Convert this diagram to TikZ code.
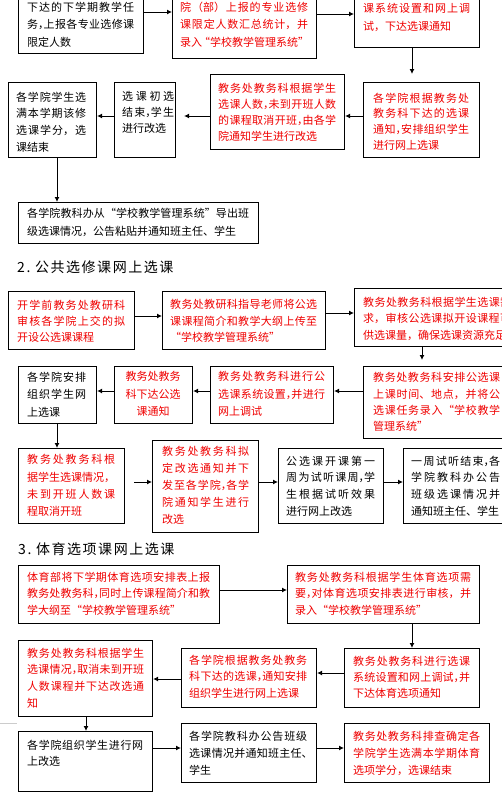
\documentclass[tikz,border=0pt]{standalone}
\usepackage{fontspec}
\newfontfamily\cjk{Noto Sans CJK SC}
\newfontfamily\cjkt[LetterSpace=11]{Noto Sans CJK SC}
\usetikzlibrary{arrows.meta}
\definecolor{tred}{RGB}{240,0,0}
\XeTeXlinebreaklocale "zh"
\XeTeXlinebreakskip=0pt plus 3pt
\newcommand\nc{\makebox[5.5pt][l]{，}}
\newcommand\nd{\makebox[5.5pt][l]{、}}
\newcommand\oq{\makebox[8pt][r]{“}}
\newcommand\cq{\makebox[8pt][l]{”}}
\newcommand\mybox[5]{\node[box, minimum width={(#4-#2)*1pt}, minimum height={(#5-#3)*1pt}] (#1) at (#2,#3) {};}
\begin{document}
\begin{tikzpicture}[x=1pt,y=-1pt,
  box/.style={draw, line width=1.1pt, inner sep=0pt, anchor=north west},
  txt/.style={anchor=north west, inner sep=0pt, align=justify, yshift=5.5pt, font=\cjk\fontsize{11}{16.5}\selectfont},
  lp/.style={font=\cjk\fontsize{11}{#1}\selectfont},
  tw/.style={text width=#1pt},
  rt/.style={text=tred},
  ttl/.style={anchor=west, inner sep=0pt, font=\cjkt\fontsize{14}{16}\selectfont},
  arr/.style={line width=1pt, -{Latex[length=5pt,width=5pt]}}]
\useasboundingbox (0,0) rectangle (502,803);
\clip (0,0) rectangle (502,803);
\fill[white] (0,0) rectangle (502,803);

% ---------- Section 1 ----------
\mybox{A}{18}{-20}{143}{53}
\mybox{B}{172}{-20}{316}{58}
\mybox{C}{354}{-20}{479}{47}
\mybox{D}{363}{82}{479}{157}
\mybox{E}{210}{74}{344}{149}
\mybox{F}{114}{82}{175}{157}
\mybox{G}{8}{82}{96}{157}
\mybox{H}{18}{202}{258}{243}

\node[txt, lp=17.5, tw=107] (tA) at (27,7) {下达的下学期教学任\linebreak 务\nc 上报各专业选修课\linebreak 限定人数};
\node[txt, lp=17.5, tw=128, rt] (tB) at (180,7) {院（部）上报的专业选修\linebreak 课限定人数汇总统计，并\linebreak 录入\oq 学校教学管理系统\cq};
\node[txt, lp=18, tw=107, rt] (tC) at (363,9) {课系统设置和网上调\linebreak 试，下达选课通知};
\node[txt, lp=15.7, tw=96, rt] (tD) at (373,98) {各学院根据教务处\linebreak 教务科下达的选课\linebreak 通知\nc 安排组织学生\linebreak 进行网上选课};
\node[txt, lp=16, tw=118, rt] (tE) at (218,88) {教务处教务科根据学生\linebreak 选课人数\nc 未到开班人数\linebreak 的课程取消开班\nc 由各学\linebreak 院通知学生进行改选};
\node[txt, lp=16, tw=52] (tF) at (122,97) {选课初选\linebreak 结束\nc 学生\linebreak 进行改选};
\node[txt, lp=16.7, tw=70] (tG) at (16,97) {各学院学生选\linebreak 满本学期该修\linebreak 选课学分，选\linebreak 课结束};
\node[txt, lp=18.5, tw=222] (tH) at (27,213) {各学院教科办从“学校教学管理系统”导出班\linebreak 级选课情况，公告粘贴并通知班主任、学生};

\draw[arr] (A.east |- 0,12) -- (B.west |- 0,12);
\draw[arr] (B.east |- 0,14) -- (C.west |- 0,14);
\draw[arr, shorten >=8pt] (C.south -| 412,0) -- (D.north -| 412,0);
\draw[arr] (D.west |- 0,116) -- (E.east |- 0,116);
\draw[arr, shorten >=8pt] (E.west |- 0,116) -- (F.east |- 0,116);
\draw[arr] (F.west |- 0,116) -- (G.east |- 0,116);
\draw[arr] (G.south -| 57,0) -- (H.north -| 57,0);

% ---------- Section 2 ----------
\node[ttl] (T2) at (17,267) {2.\ 公共选修课网上选课};

\mybox{I}{8}{291}{134}{349}
\mybox{J}{162}{291}{325}{349}
\mybox{K}{354}{288}{520}{346}
\mybox{L}{363}{366}{520}{438}
\mybox{M}{210}{366}{333}{423}
\mybox{N}{114}{366}{192}{423}
\mybox{O}{18}{366}{96}{423}
\mybox{P}{18}{448}{124}{523}
\mybox{Q}{152}{440}{258}{532}
\mybox{R}{278}{448}{383}{523}
\mybox{S}{403}{448}{520}{523}

\node[txt, lp=16, tw=108, rt] (tI) at (17,305) {开学前教务处教研科\linebreak 审核各学院上交的拟\linebreak 开设公选课课程};
\node[txt, lp=16.5, tw=147, rt] (tJ) at (170,305) {教务处教研科指导老师将公选\linebreak 课课程简介和教学大纲上传至\linebreak “学校教学管理系统”};
\node[txt, lp=16.5, tw=148, rt] (tK) at (363,302) {\parfillskip=0pt 教务处教务科根据学生选课需\linebreak 求，审核公选课拟开设课程可\linebreak 供选课量，确保选课资源充足};
\node[txt, lp=16.3, tw=127, rt] (tL) at (373,378) {教务处教务科安排公选课\linebreak 上课时间、地点，并将公\linebreak 选课任务录入“学校教学\linebreak 管理系统”};
\node[txt, lp=17.5, tw=107, rt] (tM) at (218,377) {教务处教务科进行公\linebreak 选课系统设置\nc 并进行\linebreak 网上调试};
\node[txt, lp=17.5, rt, anchor=north, align=center] (tN) at (153,377) {教务处教务\\科下达公选\\课通知};
\node[txt, lp=17.5, tw=59] (tO) at (27,377) {各学院安排\linebreak 组织学生网\linebreak 上选课};
\node[txt, lp=17.3, tw=88, rt] (tP) at (27,460) {教务处教务科根\linebreak 据学生选课情况，\linebreak 未到开班人数课\linebreak 程取消开班};
\node[txt, lp=16.8, tw=87, rt] (tQ) at (162,452) {教务处教务科拟\linebreak 定改选通知并下\linebreak 发至各学院\nc 各学\linebreak 院通知学生进行\linebreak 改选};
\node[txt, lp=16.8, tw=89] (tR) at (286,461) {公选课开课第一\linebreak 周为试听课周\nc 学\linebreak 生根据试听效果\linebreak 进行网上改选};
\node[txt, lp=16.8, tw=89] (tS) at (411,461) {一周试听结束\nc 各\linebreak 学院教科办公告\linebreak 班级选课情况并\linebreak 通知班主任、学生};

\draw[arr] (I.east |- 0,316) -- (J.west |- 0,316);
\draw[arr] (J.east |- 0,313) -- (K.west |- 0,313);
\draw[arr, shorten >=6pt] (K.south -| 422,0) -- (L.north -| 422,0);
\draw[arr] (L.west |- 0,391) -- (M.east |- 0,391);
\draw[arr] (M.west |- 0,391) -- (N.east |- 0,391);
\draw[arr] (N.west |- 0,391) -- (O.east |- 0,391);
\draw[arr] (O.south -| 57,0) -- (P.north -| 57,0);
\draw[arr, shorten <=9pt] (P.east |- 0,482) -- (Q.west |- 0,482);
\draw[arr] (Q.east |- 0,482) -- (R.west |- 0,482);
\draw[arr] (R.east |- 0,482) -- (S.west |- 0,482);

% ---------- Section 3 ----------
\node[ttl] (T3) at (18,549) {3.\ 体育选项课网上选课};

\mybox{Tb}{18}{565}{219}{623}
\mybox{U}{287}{565}{479}{623}
\mybox{V}{344}{648}{479}{707}
\mybox{W}{181}{648}{316}{707}
\mybox{X}{18}{640}{152}{716}
\mybox{Y}{18}{731}{152}{791}
\mybox{Z}{181}{723}{316}{782}
\mybox{AA}{344}{723}{489}{782}

\node[txt, lp=16.5, tw=183, rt] (tT) at (27,577) {体育部将下学期体育选项安排表上报\linebreak 教务处教务科\nc 同时上传课程简介和教\linebreak 学大纲至“学校教学管理系统”};
\node[txt, lp=16.5, tw=176, rt] (tU) at (295,577) {教务处教务科根据学生体育选项需\linebreak 要\nc 对体育选项安排表进行审核，并\linebreak 录入“学校教学管理系统”};
\node[txt, lp=15.8, tw=117, rt] (tV) at (353,662) {教务处教务科进行选课\linebreak 系统设置和网上调试\nc 并\linebreak 下达体育选项通知};
\node[txt, lp=16.5, tw=118, rt] (tW) at (189,660) {各学院根据教务处教务\linebreak 科下达的选课\nc 通知安排\linebreak 组织学生进行网上选课};
\node[txt, lp=16.8, tw=117, rt] (tX) at (27,653) {教务处教务科根据学生\linebreak 选课情况\nc 取消未到开班\linebreak 人数课程并下达改选通\linebreak 知};
\node[txt, lp=16, tw=116] (tY) at (27,745) {各学院组织学生进行网\linebreak 上改选};
\node[txt, lp=17, tw=118] (tZ) at (189,736) {各学院教科办公告班级\linebreak 选课情况并通知班主任\nd\linebreak 学生};
\node[txt, lp=17, tw=127, rt] (tAA) at (353,736) {教务处教务科排查确定各\linebreak 学院学生选满本学期体育\linebreak 选项学分，选课结束};

\draw[arr] (Tb.east |- 0,590) -- (U.west |- 0,590);
\draw[arr] (U.south -| 412,0) -- (V.north -| 412,0);
\draw[arr] (V.west |- 0,673) -- (W.east |- 0,673);
\draw[arr] (W.west |- 0,679) -- (X.east |- 0,679);
\draw[arr] (X.south -| 86,0) -- (Y.north -| 86,0);
\draw[arr] (Y.east |- 0,748) -- (Z.west |- 0,748);
\draw[arr] (Z.east |- 0,748) -- (AA.west |- 0,748);

\draw[gray!40, line width=1pt] (0,723) -- (17,723);
\end{tikzpicture}
\end{document}
